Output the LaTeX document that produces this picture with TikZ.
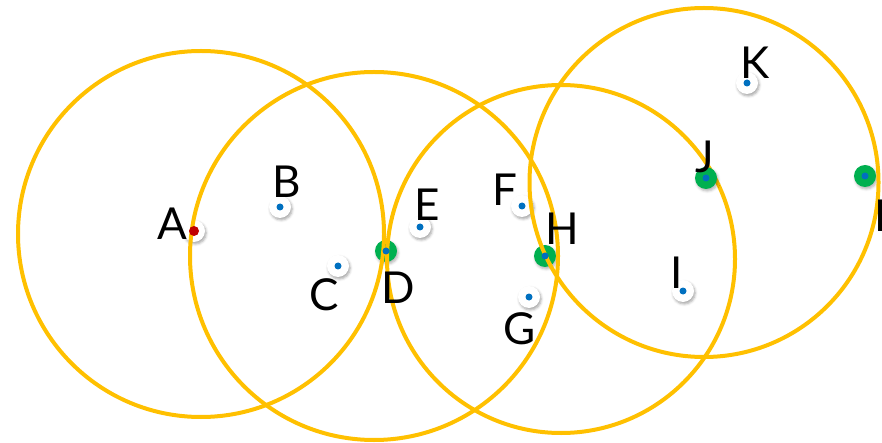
\documentclass[tikz,border=0pt]{standalone}
\usepackage{fontspec}
\setmainfont{Lato}
\usetikzlibrary{shadows.blur}
\definecolor{ringyellow}{RGB}{255,192,0}
\definecolor{dotblue}{RGB}{0,112,192}
\definecolor{hubgreen}{RGB}{0,176,80}
\definecolor{srcred}{RGB}{192,0,0}
\tikzset{
  ring/.style={draw=ringyellow, line width=4pt},
  halo/.style={circle, fill=white, minimum size=22pt, inner sep=0pt,
    blur shadow={shadow xshift=1.2pt, shadow yshift=-2pt,
      shadow blur radius=2.5pt, shadow opacity=35}},
  hub/.style={circle, fill=hubgreen, minimum size=22pt, inner sep=0pt,
    blur shadow={shadow xshift=1.2pt, shadow yshift=-2pt,
      shadow blur radius=2.5pt, shadow opacity=30}},
  bdot/.style={circle, fill=dotblue, minimum size=7pt, inner sep=0pt},
  rdot/.style={circle, fill=srcred, minimum size=10pt, inner sep=0pt},
  lbl/.style={inner sep=0pt, font=\fontsize{44}{44}\selectfont},
}
\begin{document}
\begin{tikzpicture}[x=1pt, y=-1pt]
  \useasboundingbox (0,0) rectangle (882,443);
  \clip (0,0) rectangle (882,443);

  % station positions
  \coordinate (pA) at (194,231);
  \coordinate (pB) at (280,207);
  \coordinate (pC) at (338,266);
  \coordinate (pD) at (386,251);
  \coordinate (pE) at (420,227);
  \coordinate (pF) at (522,206);
  \coordinate (pG) at (529,297);
  \coordinate (pH) at (545,256);
  \coordinate (pI) at (683,291);
  \coordinate (pJ) at (706,178);
  \coordinate (pK) at (747,83);
  \coordinate (pL) at (865,176);

  % white halos and green relay discs
  \node[halo] (hA) at (pA) {};
  \node[halo] (hB) at (pB) {};
  \node[halo] (hC) at (pC) {};
  \node[hub]  (hD) at (pD) {};
  \node[halo] (hE) at (pE) {};
  \node[halo] (hF) at (pF) {};
  \node[halo] (hG) at (pG) {};
  \node[hub]  (hH) at (pH) {};
  \node[halo] (hI) at (pI) {};
  \node[halo] (hK) at (pK) {};
  \node[hub]  (hL) at (pL) {};

  % coverage rings
  \draw[ring] (201,234) circle[radius=183];
  \draw[ring] (374,256) circle[radius=184];
  \draw[ring] (561,259) circle[radius=174];
  \draw[ring] (704,182.5) circle[radius=174.5];

  \node[hub] (hJ) at (pJ) {};

  % station dots
  \node[rdot] (dA) at (pA) {};
  \node[bdot] (dB) at (pB) {};
  \node[bdot] (dC) at (pC) {};
  \node[bdot] (dD) at (pD) {};
  \node[bdot] (dE) at (pE) {};
  \node[bdot] (dF) at (pF) {};
  \node[bdot] (dG) at (pG) {};
  \node[bdot] (dH) at (pH) {};
  \node[bdot] (dI) at (pI) {};
  \node[bdot] (dJ) at (pJ) {};
  \node[bdot] (dK) at (pK) {};
  \node[bdot] (dL) at (pL) {};

  % labels
  \node[lbl] (lA) at (172,224) {A};
  \node[lbl] (lB) at (287,182) {B};
  \node[lbl] (lC) at (324,295) {C};
  \node[lbl] (lD) at (398,288) {D};
  \node[lbl] (lE) at (427,205) {E};
  \node[lbl] (lF) at (505,190) {F};
  \node[lbl] (lG) at (520,329) {G};
  \node[lbl] (lH) at (562,229) {H};
  \node[lbl] (lI) at (677,273) {I};
  \node[lbl] (lJ) at (705,157) {J};
  \node[lbl] (lK) at (755,63) {K};
  \node[lbl, anchor=west] (lL) at (874,216) {L};
\end{tikzpicture}
\end{document}
